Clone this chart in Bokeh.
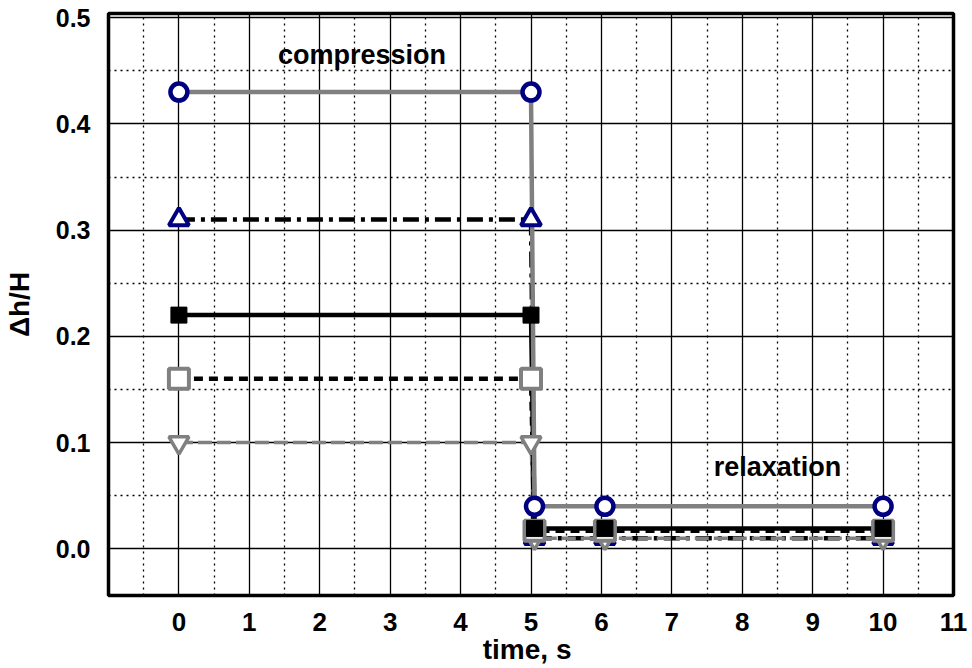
from bokeh.plotting import figure
from bokeh.models import FixedTicker, PrintfTickFormatter, Range1d, Label
from bokeh.embed import file_html
from bokeh.resources import INLINE

# data
time = [0, 5, 5.05, 6.05, 10]
circle_vals = [0.43, 0.43, 0.04, 0.04, 0.04]
triangle_vals = [0.31, 0.31, 0.01, 0.01, 0.01]
filled_sq_vals = [0.22, 0.22, 0.019, 0.019, 0.019]
open_sq_vals = [0.16, 0.16, 0.017, 0.017, 0.017]
inv_tri_vals = [0.10, 0.10, 0.01, 0.01, 0.01]
x_ticks = list(range(0, 12))
y_ticks = [0.0, 0.1, 0.2, 0.3, 0.4, 0.5]

FONT = "Liberation Sans"

p = figure(width=972, height=668, output_backend="svg", toolbar_location=None,
           x_range=Range1d(-1, 11), y_range=Range1d(-0.044, 0.504),
           min_border_left=106, min_border_right=19, min_border_top=13, min_border_bottom=73)

p.outline_line_color = "black"
p.outline_line_width = 3.5
p.outline_line_alpha = 1

p.xaxis.ticker = FixedTicker(ticks=x_ticks, minor_ticks=[x + 0.5 for x in range(-1, 11)])
p.yaxis.ticker = FixedTicker(ticks=y_ticks, minor_ticks=[0.05, 0.15, 0.25, 0.35, 0.45])
p.yaxis.formatter = PrintfTickFormatter(format="%.1f")

for ax in (p.xaxis, p.yaxis):
    ax.axis_line_color = None
    ax.major_tick_line_color = None
    ax.minor_tick_line_color = None
    ax.major_label_text_font = FONT
    ax.major_label_text_font_style = "bold"
    ax.major_label_text_color = "black"
    ax.axis_label_text_font = FONT
    ax.axis_label_text_font_style = "bold"
    ax.axis_label_text_color = "black"

p.xaxis.major_label_text_font_size = "26px"
p.yaxis.major_label_text_font_size = "25px"
p.xaxis.axis_label_text_font_size = "28px"
p.yaxis.axis_label_text_font_size = "28px"
p.xaxis.major_label_standoff = 11
p.xaxis.axis_label_standoff = 0
p.yaxis.major_label_standoff = 12
p.yaxis.axis_label_standoff = 18
p.xaxis.axis_label = "time,  s"
p.yaxis.axis_label = "Δh/H"

for g in (p.xgrid, p.ygrid):
    g.grid_line_color = "black"
    g.grid_line_width = 1.3
    g.grid_line_alpha = 1
    g.minor_grid_line_color = "black"
    g.minor_grid_line_width = 1.3
    g.minor_grid_line_dash = "2 4"

NAVY = "#000080"
GRAY = "#808080"

# triangles (black dash-dot)
p.line(time, triangle_vals, line_color="black", line_width=4.5, line_dash="16 6 4 6")
# inverted triangle series (gray dashed)
p.line(time, inv_tri_vals, line_color=GRAY, line_width=3.5, line_dash="14 5")
# open squares (black dashed)
p.line(time, open_sq_vals, line_color="black", line_width=4.5, line_dash="9 6")
# filled squares (black solid)
p.line(time, filled_sq_vals, line_color="black", line_width=4.5)
# circles (gray solid)
p.line(time, circle_vals, line_color=GRAY, line_width=4.5)

p.scatter(time, triangle_vals, marker="triangle", size=20, line_color=NAVY, line_width=4, fill_color="white")
p.scatter(time, inv_tri_vals, marker="inverted_triangle", size=20, line_color=GRAY, line_width=3.5, fill_color="white")
p.scatter(time, open_sq_vals, marker="square", size=20, line_color=GRAY, line_width=4, fill_color="white")
p.scatter(time, filled_sq_vals, marker="square", size=16, line_color="black", line_width=1, fill_color="black")
p.scatter(time, circle_vals, marker="circle", size=17, line_color=NAVY, line_width=4.5, fill_color="white")

p.add_layout(Label(x=2.6, y=0.465, text="compression", text_align="center", text_baseline="middle",
                   text_font=FONT, text_font_style="bold", text_font_size="27px", text_color="black"))
p.add_layout(Label(x=8.5, y=0.077, text="relaxation", text_align="center", text_baseline="middle",
                   text_font=FONT, text_font_style="bold", text_font_size="27px", text_color="black"))

open("out.html", "w").write(file_html(p, INLINE))
